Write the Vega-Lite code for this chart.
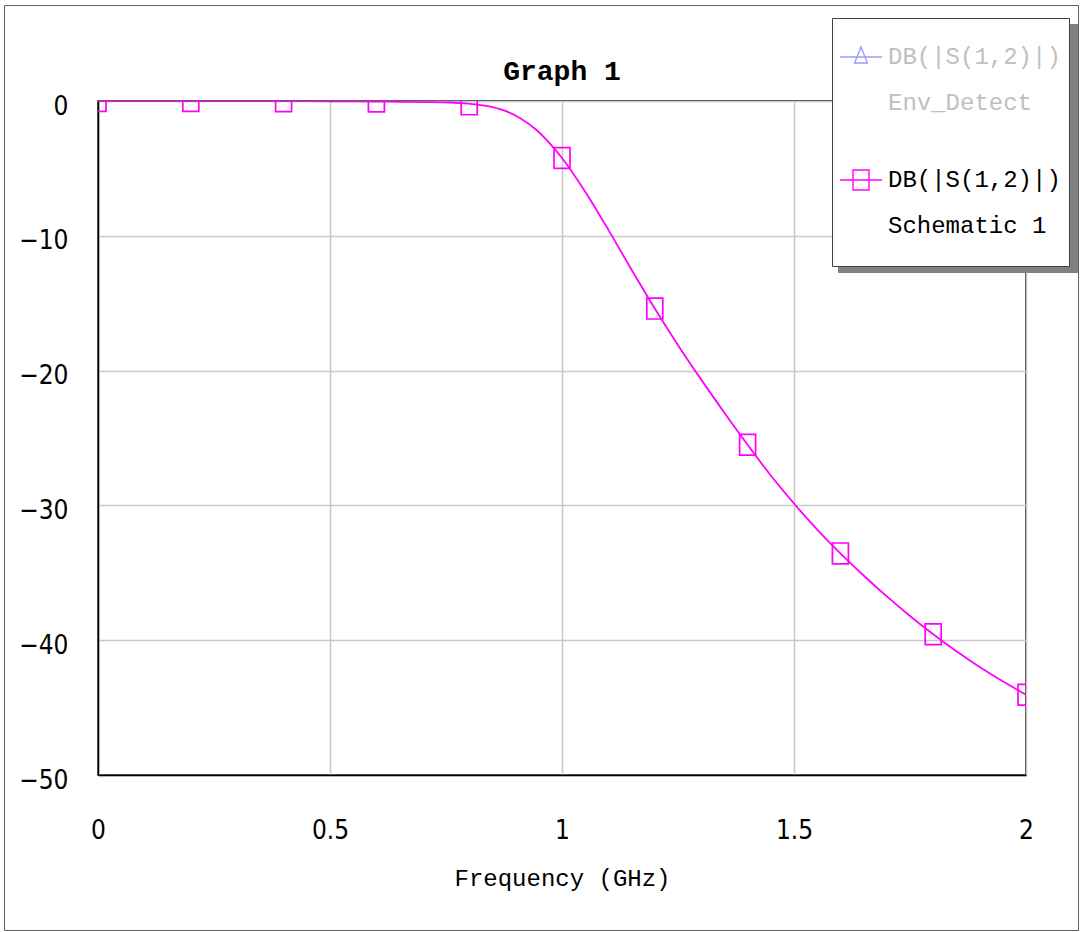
{
  "$schema": "https://vega.github.io/schema/vega-lite/v6.json",
  "autosize": "none",
  "width": 928,
  "height": 674,
  "padding": {"left": 98, "top": 101, "right": 55, "bottom": 157},
  "background": "white",
  "title": {"text": "Graph 1", "font": "Liberation Mono", "fontSize": 28, "fontWeight": "bold", "color": "black", "anchor": "middle", "baseline": "alphabetic", "offset": -103},
  "datasets": {
    "curve": [
      {"freq": 0, "db": 0}, {"freq": 0.1, "db": 0}, {"freq": 0.2, "db": 0}, {"freq": 0.3, "db": 0},
      {"freq": 0.4, "db": -0.01}, {"freq": 0.5, "db": -0.02}, {"freq": 0.6, "db": -0.04}, {"freq": 0.65, "db": -0.06},
      {"freq": 0.7, "db": -0.08}, {"freq": 0.76, "db": -0.11}, {"freq": 0.8, "db": -0.2}, {"freq": 0.84, "db": -0.38},
      {"freq": 0.875, "db": -0.7}, {"freq": 0.91, "db": -1.28}, {"freq": 0.945, "db": -2.15}, {"freq": 0.975, "db": -3.2},
      {"freq": 1.0, "db": -4.23}, {"freq": 1.05, "db": -6.73}, {"freq": 1.1, "db": -9.56}, {"freq": 1.15, "db": -12.52},
      {"freq": 1.2, "db": -15.4}, {"freq": 1.25, "db": -18.12}, {"freq": 1.3, "db": -20.67},
      {"freq": 1.35, "db": -23.12}, {"freq": 1.4, "db": -25.5}, {"freq": 1.45, "db": -27.78}, {"freq": 1.5, "db": -29.86},
      {"freq": 1.55, "db": -31.79}, {"freq": 1.6, "db": -33.56}, {"freq": 1.65, "db": -35.2}, {"freq": 1.7, "db": -36.75},
      {"freq": 1.75, "db": -38.2}, {"freq": 1.8, "db": -39.56}, {"freq": 1.85, "db": -40.82}, {"freq": 1.9, "db": -41.98},
      {"freq": 1.95, "db": -43.05}, {"freq": 2.0, "db": -44.05}
    ],
    "markers": [
      {"freq": 0, "db": 0, "series": "DB(|S(1,2)|)~Schematic 1"},
      {"freq": 0.2, "db": 0, "series": "DB(|S(1,2)|)~Schematic 1"},
      {"freq": 0.4, "db": -0.01, "series": "DB(|S(1,2)|)~Schematic 1"},
      {"freq": 0.6, "db": -0.04, "series": "DB(|S(1,2)|)~Schematic 1"},
      {"freq": 0.8, "db": -0.25, "series": "DB(|S(1,2)|)~Schematic 1"},
      {"freq": 1.0, "db": -4.23, "series": "DB(|S(1,2)|)~Schematic 1"},
      {"freq": 1.2, "db": -15.4, "series": "DB(|S(1,2)|)~Schematic 1"},
      {"freq": 1.4, "db": -25.5, "series": "DB(|S(1,2)|)~Schematic 1"},
      {"freq": 1.6, "db": -33.56, "series": "DB(|S(1,2)|)~Schematic 1"},
      {"freq": 1.8, "db": -39.56, "series": "DB(|S(1,2)|)~Schematic 1"},
      {"freq": 2.0, "db": -44.05, "series": "DB(|S(1,2)|)~Schematic 1"}
    ]
  },
  "encoding": {
    "x": {"field": "freq", "type": "quantitative",
      "scale": {"domain": [0, 2], "nice": false, "zero": false},
      "axis": {"title": "Frequency (GHz)", "values": [0, 0.5, 1, 1.5, 2], "format": "~g"}},
    "y": {"field": "db", "type": "quantitative",
      "scale": {"domain": [-50, 0], "nice": false},
      "axis": {"title": null, "values": [0, -10, -20, -30, -40, -50]}}
  },
  "layer": [
    {
      "data": {"name": "curve"},
      "mark": {"type": "line", "color": "#ff00ff", "strokeWidth": 1.8, "interpolate": "monotone", "clip": true}
    },
    {
      "data": {"name": "markers"},
      "mark": {"type": "point", "shape": "M-1,-1.3H1V1.3H-1Z", "size": 256, "filled": false, "color": "#ff00ff", "strokeWidth": 1.7, "opacity": 1, "clip": true}
    },
    {
      "data": {"name": "markers"},
      "transform": [{"filter": "datum.freq < 0"}],
      "mark": {"type": "point", "filled": false, "size": 256, "strokeWidth": 1.4},
      "encoding": {
        "color": {"field": "shade", "type": "nominal",
          "scale": {"domain": ["shadow"], "range": ["#808080"]},
          "legend": {
            "title": null,
            "orient": "none",
            "legendX": 740,
            "legendY": -77,
            "padding": 0,
            "fillColor": "#808080",
            "strokeColor": "#808080",
            "symbolOpacity": 0,
            "symbolStrokeWidth": 0,
            "labelOffset": 0,
            "labelExpr": "''",
            "encoding": {
              "symbols": {
                "shape": {"value": "M0,0L0,0M239,248L239,248"},
                "size": {"value": 4},
                "x": {"value": 0},
                "y": {"value": 0}
              },
              "labels": {"x": {"value": 1}, "y": {"value": 1}}
            }
          }},
        "strokeDash": {"field": "frame", "type": "nominal",
          "scale": {"domain": ["frame"], "range": [[1, 0]]},
          "legend": {
            "title": null,
            "orient": "none",
            "legendX": -94,
            "legendY": -96,
            "padding": 0,
            "fillColor": "transparent",
            "strokeColor": "#606060",
            "symbolOpacity": 0,
            "symbolStrokeWidth": 0,
            "labelOffset": 0,
            "labelExpr": "''",
            "encoding": {
              "symbols": {
                "shape": {"value": "M0,0L0,0M1074,925L1074,925"},
                "size": {"value": 4},
                "x": {"value": 0},
                "y": {"value": 0}
              },
              "labels": {"x": {"value": 1}, "y": {"value": 1}}
            }
          }},
        "shape": {"field": "series", "type": "nominal",
          "scale": {"domain": ["DB(|S(1,2)|)~Env_Detect", "DB(|S(1,2)|)~Schematic 1"],
            "range": ["M-2.625,0H2.625M0,-1.25L0.8,0.75H-0.8ZM0,-3.875L0,-3.875M0,9.375L0,9.375", "M-2.625,0H2.625M-1,-1.25H1V1.25H-1ZM0,-3.875L0,-3.875M0,9.375L0,9.375"]},
          "legend": {
            "title": null,
            "orient": "none",
            "legendX": 734,
            "legendY": -83,
            "padding": 8,
            "fillColor": "white",
            "strokeColor": "#404040",
            "symbolSize": 256,
            "symbolStrokeWidth": 1.4,
            "symbolFillColor": "transparent",
            "symbolOpacity": 1,
            "labelFont": "Liberation Mono",
            "labelFontSize": 24,
            "labelLimit": 400,
            "labelBaseline": "top",
            "rowPadding": 11,
            "labelExpr": "split(datum.label, '~')",
            "encoding": {
              "symbols": {
                "stroke": {"condition": {"test": "datum.index === 0", "value": "#9a9aff"}, "value": "#ff00ff"},
                "fill": {"value": "transparent"},
                "x": {"value": 21},
                "y": {"value": 31}
              },
              "labels": {
                "fill": {"condition": {"test": "datum.index === 0", "value": "#c0c0c0"}, "value": "black"},
                "lineHeight": {"value": 46},
                "x": {"value": 48},
                "y": {"value": 31},
                "dy": {"value": -12}
              }
            }
          }}
      }
    }
  ],
  "config": {
    "view": {"stroke": "black", "strokeWidth": 1.5},
    "axis": {
      "domainColor": "black",
      "domainWidth": 1.5,
      "gridColor": "#c8c8c8",
      "gridWidth": 1.5,
      "ticks": false,
      "labelFont": "Liberation Sans Narrow, DejaVu Sans Condensed",
      "labelFontSize": 26,
      "labelColor": "black",
      "titleFont": "Liberation Mono",
      "titleFontSize": 24,
      "titleFontWeight": "normal",
      "titleColor": "black"
    },
    "axisX": {"labelPadding": 42, "labelBaseline": "top", "labelFlush": false, "titlePadding": 23},
    "axisY": {"labelPadding": 30, "labelBaseline": "middle", "labelBound": false, "labelOffset": 5}
  }
}
